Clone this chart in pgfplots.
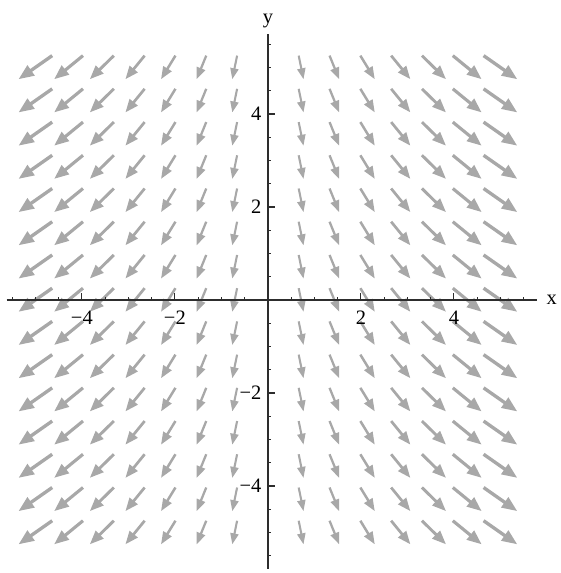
\documentclass[border=0pt]{standalone}
\usepackage{fontspec}
\setmainfont{Liberation Serif}
\usepackage{pgfplots}
\pgfplotsset{compat=1.18}
\usepackage{pgfplotstable}
\usetikzlibrary{arrows.meta}
\definecolor{arrowgray}{RGB}{168,168,168}
\definecolor{axisgray}{RGB}{45,45,45}

% column position and the arrow drawn there (same in every row)
\pgfplotstableread{
x      u      v
-5.000 -0.725 -0.508
-4.286 -0.621 -0.508
-3.571 -0.518 -0.508
-2.857 -0.414 -0.508
-2.143 -0.311 -0.508
-1.429 -0.207 -0.508
-0.714 -0.104 -0.508
 0.714  0.104 -0.508
 1.429  0.207 -0.508
 2.143  0.311 -0.508
 2.857  0.414 -0.508
 3.571  0.518 -0.508
 4.286  0.621 -0.508
 5.000  0.725 -0.508
}\field

\begin{document}
\begin{tikzpicture}
\begin{axis}[
    x=25pt, y=25pt,
    xmin=-5.62, xmax=5.79,
    ymin=-5.78, ymax=5.71,
    axis lines=middle,
    axis on top,
    axis line style={-, axisgray, line width=0.75pt},
    xtick={-4,-2,2,4}, xticklabels={−4,−2,2,4},
    ytick={-4,-2,2,4}, yticklabels={−4,−2,2,4},
    minor xtick={-5.5,-5,...,5.5},
    minor ytick={-5.5,-5,...,5.5},
    tick align=inside,
    major tick length=4pt, minor tick length=1.8pt,
    tick style={axisgray, line width=0.6pt},
    tick label style={font=\fontsize{11}{13}\selectfont},
    x tick label style={yshift=-2.5pt},
    label style={font=\fontsize{11}{13}\selectfont},
    xlabel={x}, ylabel={y},
    x label style={at={(current axis.right of origin)}, anchor=west, xshift=1.5pt},
    y label style={at={(current axis.above origin)}, anchor=south},
    point meta min=0, point meta max=0.725,
]
\pgfplotsinvokeforeach{-5.000,-4.286,-3.571,-2.857,-2.143,-1.429,-0.714,0,0.714,1.429,2.143,2.857,3.571,4.286,5.000}{
  \addplot[arrowgray, no markers,
    point meta={abs(\thisrow{u})},
    quiver={u=\thisrow{u}, v=\thisrow{v},
      every arrow/.append style={line width=1.0pt+0.8pt*\pgfplotspointmetatransformed/1000}},
    -{Triangle[length=2pt 3.5, width=1pt 3]}]
    table[x expr=\thisrow{x}-0.5*\thisrow{u}, y expr=#1-0.5*\thisrow{v}] {\field};
}
\coordinate (bl) at (axis cs:-5.76,-5.87);
\coordinate (tr) at (axis cs:6.30,6.45);
\end{axis}
\pgfresetboundingbox
\useasboundingbox (bl) rectangle (tr);
\end{tikzpicture}
\end{document}
